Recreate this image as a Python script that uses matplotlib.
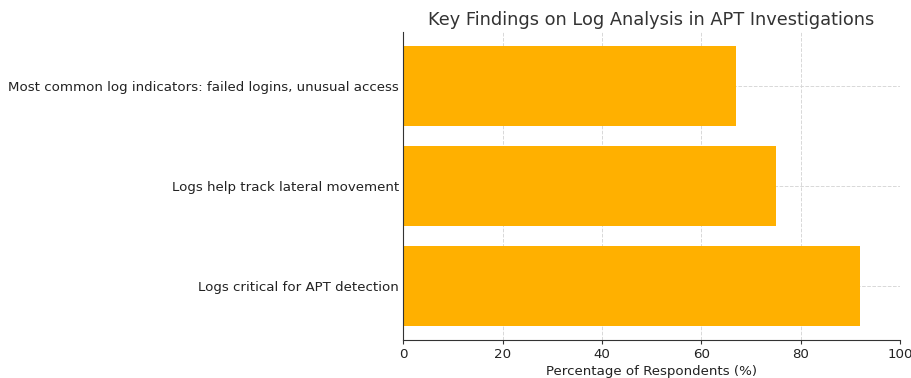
import matplotlib
matplotlib.use("Agg")
import matplotlib.pyplot as plt

categories = ["Logs critical for APT detection",
              "Logs help track lateral movement",
              "Most common log indicators: failed logins, unusual access"]
values = [92, 75, 67]

fig = plt.figure(figsize=(9.12, 3.78), dpi=100)
ax = fig.add_axes([0.442, 0.1005, 0.545, 0.8145])
ax.barh(categories, values, color="#FFB000", height=0.8, zorder=2)
ax.set_xlim(0, 100)
ax.set_xticks([0, 20, 40, 60, 80, 100])
ax.grid(True, linestyle="--", color="#d8d8d8", linewidth=0.7, zorder=0)
ax.spines["top"].set_visible(False)
ax.spines["right"].set_visible(False)
for s in ["left", "bottom"]:
    ax.spines[s].set_color("#333333")
ax.tick_params(axis="x", labelsize=9.6, colors="#333333", labelcolor="#222222", length=3, pad=2.5)
ax.tick_params(axis="y", labelsize=9.6, labelcolor="#222222", length=0, pad=3)
ax.set_xlabel("Percentage of Respondents (%)", fontsize=9.6, color="#222222", labelpad=3)
ax.set_title("Key Findings on Log Analysis in APT Investigations", fontsize=12.8, color="#333333", pad=5)
fig.savefig("out.png", dpi=100)
